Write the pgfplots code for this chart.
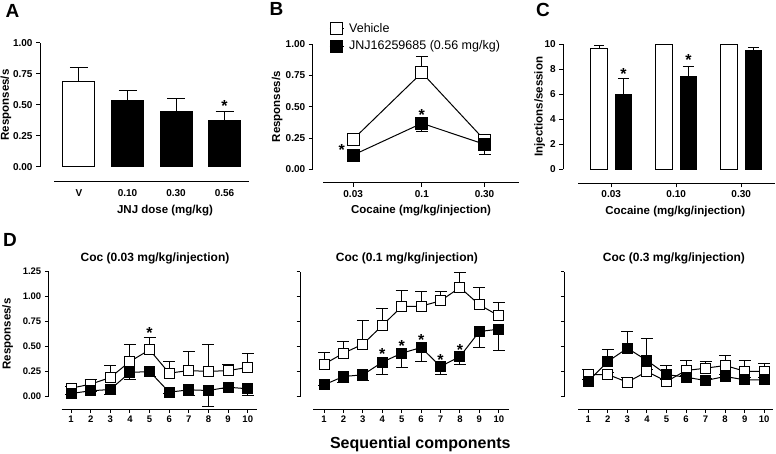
\documentclass[border=0pt]{standalone}
\usepackage{fontspec}
\setmainfont{Liberation Sans}
\usepackage{pgfplots}
\pgfplotsset{compat=1.18}

\pgfplotsset{
  prism/.style={
    scale only axis, clip=false,
    axis x line*=bottom, axis y line*=left,
    axis line style={line width=1pt},
    tick style={line width=1pt, black},
    tick align=outside, major tick length=4pt,
    ticklabel style={font=\fontsize{10}{12}\selectfont\bfseries},
    /pgf/number format/assume math mode=true,
    label style={font=\fontsize{11.5}{13}\selectfont\bfseries, anchor=center},
  },
  xoff/.style={x axis line style={yshift=-#1}, xtick style={yshift=-#1}, xticklabel style={yshift=-#1}},
  yfix/.style={yticklabel style={/pgf/number format/.cd, fixed, fixed zerofill, precision=2}},
  ebup/.style={error bars/y dir=plus, error bars/y explicit,
    error bars/error mark=|,
    error bars/error bar style={line width=1pt, black},
    error bars/error mark options={mark size=#1, line width=1pt, black}},
  ebdn/.style={error bars/y dir=minus, error bars/y explicit,
    error bars/error mark=|,
    error bars/error bar style={line width=1pt, black},
    error bars/error mark options={mark size=#1, line width=1pt, black}},
  veh/.style={draw=black, line width=1pt, mark=square*, mark size=#1, mark options={fill=white, solid}},
  jnj/.style={draw=black, line width=1pt, mark=square*, mark size=#1, mark options={fill=black, solid}},
  dpanel/.style={prism, anchor=south west, width=208.5pt, height=125pt,
    ymin=0, ymax=1.25, ytick={0,0.25,0.5,0.75,1,1.25}, yfix,
    xtick={1,...,10}, xoff=12.8pt, major tick length=3.5pt,
    ticklabel style={font=\fontsize{9.5}{11}\selectfont\bfseries},
    title style={font=\fontsize{12}{14}\selectfont\bfseries, anchor=center}},
}
\tikzset{
  ast/.style={font=\fontsize{16}{16}\selectfont\bfseries, inner sep=0pt, anchor=center},
  plet/.style={font=\fontsize{19}{20}\selectfont\bfseries, inner sep=0pt, anchor=center},
}

\begin{document}
\begin{tikzpicture}
\useasboundingbox (0,0) rectangle (776pt,-454pt);

% A
\begin{axis}[prism, at={(40pt,-167pt)}, anchor=south west,
  width=209pt, height=124pt,
  xmin=0.196, xmax=4.505, ymin=0, ymax=1,
  ybar, bar width=32pt,
  xtick={1,2,3,4}, xticklabels={V,0.10,0.30,0.56},
  ytick={0,0.25,0.5,0.75,1}, yfix,
  xoff=15pt, x axis line style={shorten <=14pt}, xtick style={draw=none},
  xlabel={JNJ dose (mg/kg)}, xlabel style={at={(axis description cs:0.598,-0.355)}},
  ylabel={Responses/s}, ylabel style={at={(axis description cs:-0.163,0.5)}},
]
\addplot[draw=black, fill=white, line width=1pt, bar shift=0pt, ebup=9pt]
  coordinates {(1,0.69) +- (0,0.11)};
\addplot[draw=black, fill=black, line width=1pt, bar shift=0pt, ebup=9pt]
  coordinates {(2,0.54) +- (0,0.075) (3,0.45) +- (0,0.10) (4,0.373) +- (0,0.072)};
\node[ast] at (axis cs:4,0.49) {*};
\end{axis}

% B
\begin{axis}[prism, at={(312.7pt,-169.3pt)}, anchor=south west,
  width=206pt, height=125pt,
  xmode=log, xmin=0.01476, xmax=0.546, ymin=0, ymax=1,
  xtick={0.03,0.1,0.3}, xticklabels={0.03,0.1,0.30}, xminorticks=false,
  ytick={0,0.25,0.5,0.75,1}, yfix,
  xoff=13.4pt, x axis line style={shorten <=10.3pt},
  xlabel={Cocaine (mg/kg/injection)}, xlabel style={at={(axis description cs:0.526,-0.331)}},
  ylabel={Responses/s}, ylabel style={at={(axis description cs:-0.173,0.5)}},
  legend style={at={(axis description cs:0.079,1.186)}, anchor=north west,
    draw=none, fill=none, inner sep=0pt, row sep=3pt, column sep=3pt,
    font=\fontsize{12.5}{13.5}\selectfont},
  legend cell align=left,
  legend image code/.code={\draw[mark repeat=2, mark phase=2] plot coordinates {(0pt,0pt) (7pt,0pt) (14pt,0pt)};},
]
\addplot[veh=6pt, ebup=6pt] coordinates {(0.03,0.24) +- (0,0.02) (0.1,0.773) +- (0,0.133) (0.3,0.234) +- (0,0.02)};
\addlegendentry{Vehicle}
\addplot[jnj=6pt, ebdn=6pt] coordinates {(0.03,0.114) +- (0,0.02) (0.1,0.368) +- (0,0.068) (0.3,0.20) +- (0,0.08)};
\addlegendentry{JNJ16259685 (0.56 mg/kg)}
\node[ast] at (axis cs:0.1,0.433) {*};
\node[ast] at (axis cs:0.02454,0.153) {*};
\end{axis}

% C
\begin{axis}[prism, at={(563.3pt,-169.3pt)}, anchor=south west,
  width=211.7pt, height=125pt,
  xmin=0.263, xmax=3.52, ymin=0, ymax=10,
  ybar, bar width=16.5pt,
  xtick={1,2,3}, xticklabels={0.03,0.10,0.30},
  ytick={0,2,4,6,8,10},
  xoff=14pt, x axis line style={shorten <=14.7pt},
  xlabel={Cocaine (mg/kg/injection)}, xlabel style={at={(axis description cs:0.529,-0.339)}},
  ylabel={Injections/session}, ylabel style={at={(axis description cs:-0.112,0.5)}},
]
\addplot[draw=black, fill=white, line width=1pt, bar shift=-12.2pt, ebup=5pt]
  coordinates {(1,9.68) +- (0,0.21) (2,10) +- (0,0) (3,10) +- (0,0)};
\addplot[draw=black, fill=black, line width=1pt, bar shift=12.2pt, ebup=5.5pt]
  coordinates {(1,6.0) +- (0,1.25) (2,7.46) +- (0,0.74) (3,9.49) +- (0,0.27)};
\node[ast] at ([xshift=12.2pt]axis cs:1,7.59) {*};
\node[ast] at ([xshift=12.2pt]axis cs:2,8.73) {*};
\end{axis}

% D1
\begin{axis}[dpanel, at={(48.3pt,-396.5pt)},
  xmin=-0.156, xmax=10.46, x axis line style={shorten <=13.4pt},
  title={Coc (0.03 mg/kg/injection)}, title style={at={(axis description cs:0.512,1.058)}},
  ylabel={Responses/s}, ylabel style={at={(axis description cs:-0.195,0.5)}},
]
\addplot[veh=5pt, ebup=6pt] coordinates {
  (1,0.083) +- (0,0.02) (2,0.123) +- (0,0.044) (3,0.19) +- (0,0.117)
  (4,0.35) +- (0,0.167) (5,0.467) +- (0,0.123) (6,0.233) +- (0,0.117)
  (7,0.26) +- (0,0.19) (8,0.25) +- (0,0.273) (9,0.26) +- (0,0.063)
  (10,0.29) +- (0,0.143)};
\addplot[jnj=5pt, ebdn=6pt] coordinates {
  (1,0.03) +- (0,0.01) (2,0.057) +- (0,0.01) (3,0.07) +- (0,0.053)
  (4,0.24) +- (0,0.073) (5,0.25) +- (0,0.05) (6,0.043) +- (0,0.01)
  (7,0.067) +- (0,0.057) (8,0.06) +- (0,0.16) (9,0.093) +- (0,0.01)
  (10,0.077) +- (0,0.067)};
\node[ast] at (axis cs:5,0.638) {*};
\end{axis}

% D2
\begin{axis}[dpanel, at={(300pt,-396.5pt)},
  xmin=-0.239, xmax=10.5, x axis line style={shorten <=13pt},
  yticklabels={},
  title={Coc (0.1 mg/kg/injection)}, title style={at={(axis description cs:0.513,1.058)}},
  xlabel={Sequential components},
  xlabel style={at={(axis description cs:0.577,-0.38)}, font=\fontsize{16}{18}\selectfont\bfseries},
]
\addplot[veh=5pt, ebup=6pt] coordinates {
  (1,0.323) +- (0,0.12) (2,0.433) +- (0,0.117) (3,0.523) +- (0,0.234)
  (4,0.71) +- (0,0.173) (5,0.9) +- (0,0.157) (6,0.903) +- (0,0.147)
  (7,0.957) +- (0,0.093) (8,1.09) +- (0,0.15) (9,0.917) +- (0,0.176)
  (10,0.807) +- (0,0.136)};
\addplot[jnj=5pt, ebdn=6pt] coordinates {
  (1,0.117) +- (0,0.01) (2,0.2) +- (0,0.06) (3,0.217) +- (0,0.054)
  (4,0.343) +- (0,0.126) (5,0.433) +- (0,0.143) (6,0.49) +- (0,0.14)
  (7,0.3) +- (0,0.083) (8,0.4) +- (0,0.083) (9,0.65) +- (0,0.16)
  (10,0.673) +- (0,0.21)};
\node[ast] at (axis cs:4,0.428) {*};
\node[ast] at (axis cs:5,0.505) {*};
\node[ast] at (axis cs:6,0.561) {*};
\node[ast] at (axis cs:7,0.361) {*};
\node[ast] at (axis cs:8,0.461) {*};
\end{axis}

% D3
\begin{axis}[dpanel, at={(564.3pt,-396.5pt)},
  xmin=-0.227, xmax=10.44, x axis line style={shorten <=14pt},
  yticklabels={},
  title={Coc (0.3 mg/kg/injection)}, title style={at={(axis description cs:0.526,1.058)}},
]
\addplot[veh=5pt, ebup=6pt] coordinates {
  (1,0.217) +- (0,0.053) (2,0.22) +- (0,0.02) (3,0.143) +- (0,0.05)
  (4,0.25) +- (0,0.02) (5,0.15) +- (0,0.02) (6,0.26) +- (0,0.1)
  (7,0.283) +- (0,0.067) (8,0.31) +- (0,0.1) (9,0.253) +- (0,0.107)
  (10,0.25) +- (0,0.083)};
\addplot[jnj=5pt, ebup=6pt] coordinates {
  (1,0.153) +- (0,0.02) (2,0.35) +- (0,0.12) (3,0.483) +- (0,0.167)
  (4,0.36) +- (0,0.223) (5,0.22) +- (0,0.09) (6,0.193) +- (0,0.02)
  (7,0.16) +- (0,0.02) (8,0.2) +- (0,0.02) (9,0.167) +- (0,0.02)
  (10,0.167) +- (0,0.02)};
\end{axis}

% panel letters
\node[plet] at (12.5pt,-10.5pt) {A};
\node[plet] at (276.5pt,-9pt) {B};
\node[plet] at (543pt,-10pt) {C};
\node[plet] at (10pt,-240pt) {D};
\end{tikzpicture}
\end{document}
